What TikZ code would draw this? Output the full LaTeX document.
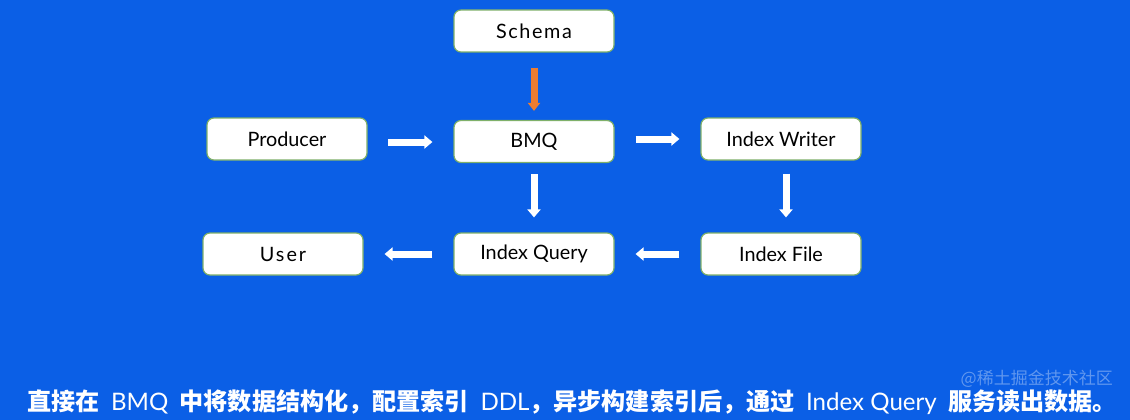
\documentclass[tikz,border=0pt]{standalone}
\usepackage{fontspec}
\setmainfont{Lato}
\newfontfamily\cjk{Noto Sans CJK SC}
\newfontfamily\latin{Lato}
\usetikzlibrary{arrows.meta}
\definecolor{bgblue}{HTML}{0B5FE6}
\definecolor{boxedge}{HTML}{7FB069}
\definecolor{orangearrow}{HTML}{ED7D31}
\tikzset{
  box/.style={draw=boxedge, line width=1.2pt, fill=white, rounded corners=7pt,
    minimum width=160pt, minimum height=42pt, inner sep=0pt,
    font=\fontsize{19.8}{22}\selectfont, text=black},
  flow/.style={draw=white, line width=7pt,
    -{Triangle[width=13pt,length=8pt]}},
  oflow/.style={flow, draw=orangearrow, -{Triangle[width=12pt,length=8pt,fill=orangearrow]}}
}
\newcommand{\lat}[1]{{\latin\mdseries #1}}
\begin{document}
\begin{tikzpicture}[x=1pt,y=-1pt]
\fill[bgblue] (0,0) rectangle (1130,420);
\useasboundingbox (0,0) rectangle (1130,420);
\node[box] (schema) at (534,31) {\addfontfeature{LetterSpace=8}Schema};
\node[box] (prod) at (287,139) {Producer};
\node[box] (bmq) at (534,141.5) {BMQ};
\node[box] (iw) at (781,139) {Index Writer};
\node[box] (iq) at (534,254) {Index Query};
\node[box] (if) at (781,254) {Index File};
\node[box] (user) at (283,254) {\addfontfeature{LetterSpace=10}User};
\coordinate (pa) at (388,142);
\draw[flow] (pa) -- (pa -| bmq.west) [shorten >=21pt];
\draw[flow, shorten <=21pt, shorten >=21pt] (bmq.east |- iw.west) -- (iw.west);
\draw[oflow, shorten <=15pt, shorten >=9pt] (schema.south) -- (bmq.north);
\draw[flow, shorten <=11pt, shorten >=15pt] (bmq.south) -- (iq.north);
\draw[flow, shorten <=13pt, shorten >=15pt] ([xshift=5pt]iw.south) -- ([xshift=5pt]if.north);
\draw[flow, shorten <=21pt, shorten >=21pt] (if.west) -- (iq.east);
\draw[flow, shorten <=21pt, shorten >=21pt] (iq.west) -- (user.east);
\node[anchor=west, text=white, inner sep=0pt, font=\fontsize{24.1}{27}\selectfont\cjk\bfseries] (caption) at (27,402)
  {直接在\hspace{6pt} \lat{BMQ} \hspace{6pt}中将数据结构化，配置索引\hspace{6pt} \lat{DDL}，异步构建索引后，通过\hspace{6pt} \lat{Index Query} \hspace{6pt}服务读出数据。};
\node[anchor=south east, text=white, opacity=0.35, inner sep=0pt, font=\fontsize{17}{20}\selectfont\cjk] (wm) at (1113,388) {@稀土掘金技术社区};
\end{tikzpicture}
\end{document}
